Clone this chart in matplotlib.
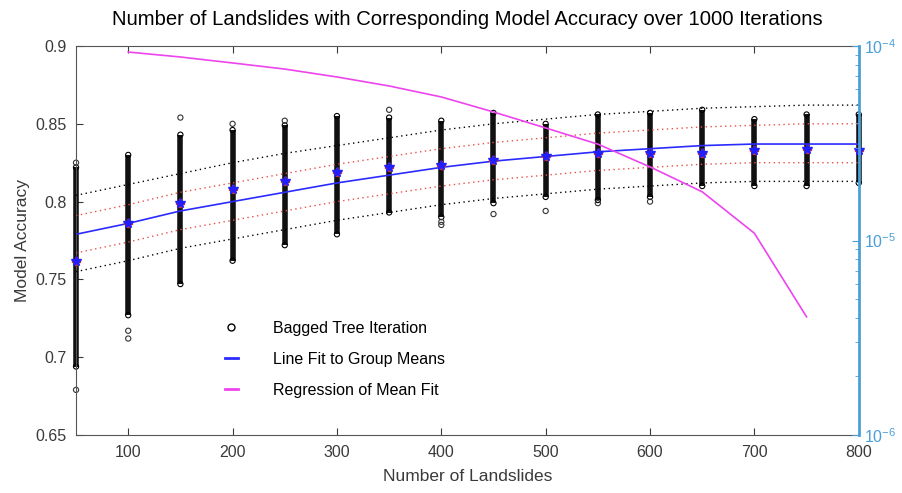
import numpy as np
import matplotlib
matplotlib.use("Agg")
import matplotlib.pyplot as plt
from matplotlib.lines import Line2D

plt.rcParams["font.family"] = ["Liberation Sans", "DejaVu Sans"]

# group sizes (number of landslides)
groups = [50, 100, 150, 200, 250, 300, 350, 400, 450, 500, 550, 600, 650, 700, 750, 800]

# dense part of each column of iteration accuracies
dense_hi = [0.822, 0.830, 0.843, 0.846, 0.849, 0.855, 0.854, 0.852,
            0.857, 0.850, 0.856, 0.857, 0.859, 0.853, 0.856, 0.856]
dense_lo = [0.694, 0.727, 0.747, 0.762, 0.772, 0.779, 0.793, 0.790,
            0.799, 0.803, 0.801, 0.803, 0.810, 0.810, 0.810, 0.812]

# isolated iterations outside the dense part
out_x = [50, 50, 100, 100, 150, 200, 250, 350, 400, 400, 450, 500, 550, 600]
out_y = [0.825, 0.679, 0.717, 0.712, 0.854, 0.850, 0.852, 0.859, 0.787, 0.785,
         0.792, 0.794, 0.799, 0.800]

# group means
means = [0.762, 0.786, 0.799, 0.808, 0.813, 0.819, 0.822, 0.8235,
         0.827, 0.829, 0.831, 0.831, 0.831, 0.833, 0.834, 0.833]

# line fit to group means and its bands
fit = [0.779, 0.786, 0.794, 0.800, 0.806, 0.812, 0.817, 0.822,
       0.826, 0.829, 0.832, 0.834, 0.836, 0.837, 0.837, 0.837]
band_hi_out = [0.804, 0.811, 0.818, 0.825, 0.831, 0.836, 0.841, 0.846,
               0.850, 0.853, 0.856, 0.858, 0.860, 0.861, 0.862, 0.862]
band_hi_in = [0.791, 0.798, 0.806, 0.812, 0.818, 0.824, 0.829, 0.834,
              0.838, 0.841, 0.844, 0.846, 0.848, 0.849, 0.850, 0.850]
band_lo_in = [0.767, 0.774, 0.782, 0.788, 0.794, 0.800, 0.805, 0.810,
              0.814, 0.817, 0.820, 0.822, 0.824, 0.825, 0.825, 0.825]
band_lo_out = [0.755, 0.762, 0.770, 0.776, 0.782, 0.788, 0.793, 0.798,
               0.802, 0.805, 0.808, 0.810, 0.812, 0.813, 0.813, 0.813]

# regression of mean fit (right, log axis)
reg_x = [100, 150, 200, 250, 300, 350, 400, 450, 500, 550, 600, 650, 700, 750]
reg_y = [9.31e-5, 8.78e-5, 8.18e-5, 7.61e-5, 6.93e-5, 6.23e-5, 5.47e-5,
         4.58e-5, 3.79e-5, 3.13e-5, 2.39e-5, 1.78e-5, 1.09e-5, 4.05e-6]

txt = "#3a3a3a"
rblue = "#4a9fd8"

fig = plt.figure(figsize=(9.03, 4.93), dpi=100)
ax = fig.add_axes([0.0842, 0.1176, 0.8668, 0.7891])

ax.vlines(groups, dense_lo, dense_hi, color="#111111", lw=4.0, zorder=2, clip_on=False)
ax.scatter(groups + groups, dense_hi + dense_lo, s=14, facecolors="none",
           edgecolors="black", lw=0.8, zorder=2, clip_on=False)
ax.scatter(out_x, out_y, s=14, facecolors="none", edgecolors="#333333", lw=0.8,
           zorder=2, clip_on=False)

ax.plot(groups, band_hi_out, ls=(0, (1, 2.5)), color="black", lw=1.0, zorder=3)
ax.plot(groups, band_lo_out, ls=(0, (1, 2.5)), color="black", lw=1.0, zorder=3)
ax.plot(groups, band_hi_in, ls=(0, (1, 2.5)), color="#e8504a", lw=1.0, zorder=3)
ax.plot(groups, band_lo_in, ls=(0, (1, 2.5)), color="#e8504a", lw=1.0, zorder=3)
ax.plot(groups, fit, color="#2b2bff", lw=1.2, zorder=4)
ax.plot(groups, means, ls="none", marker="P", ms=6, color="#d03030", zorder=5, clip_on=False)
ax.plot(groups, means, ls="none", marker="*", ms=7, color="#2020ff", zorder=6, clip_on=False)

ax.set_xlim(50, 800)
ax.set_ylim(0.65, 0.9)
ax.set_xticks(range(100, 801, 100))
ax.set_yticks([0.65, 0.7, 0.75, 0.8, 0.85, 0.9])
ax.set_yticklabels(["0.65", "0.7", "0.75", "0.8", "0.85", "0.9"])
ax.tick_params(direction="in", top=True, length=5, labelsize=11.5, colors=txt, pad=7)
for s in ["left", "bottom", "top"]:
    ax.spines[s].set_color("#555555")
ax.spines["right"].set_visible(False)
ax.set_xlabel("Number of Landslides", fontsize=12.5, color=txt, labelpad=7)
ax.set_ylabel("Model Accuracy", fontsize=12.5, color=txt, labelpad=4)
ax.set_title("Number of Landslides with Corresponding Model Accuracy over 1000 Iterations",
             fontsize=14.6, color="black", pad=15)

ax2 = ax.twinx()
ax2.plot(reg_x, reg_y, color="#ee44ee", lw=1.2)
ax2.set_yscale("log")
ax2.set_ylim(1e-6, 1e-4)
ax2.tick_params(which="both", direction="in", colors=rblue, labelsize=11.5)
ax2.tick_params(which="major", length=5)
ax2.tick_params(which="minor", length=3)
for s in ["left", "bottom", "top"]:
    ax2.spines[s].set_visible(False)
ax2.spines["right"].set_color(rblue)
ax2.spines["right"].set_linewidth(2)

handles = [
    Line2D([], [], ls="none", marker="o", mfc="none", mec="black", ms=5),
    Line2D([], [], color="#2b2bff", lw=2),
    Line2D([], [], color="#ee44ee", lw=2),
]
labels = ["Bagged Tree Iteration", "Line Fit to Group Means", "Regression of Mean Fit"]
ax.legend(handles, labels, loc="upper left", bbox_to_anchor=(0.172, 0.33), frameon=False,
          fontsize=11.5, handlelength=0.8, handletextpad=2.2, labelspacing=1.0)

fig.savefig("out.png", dpi=100)
